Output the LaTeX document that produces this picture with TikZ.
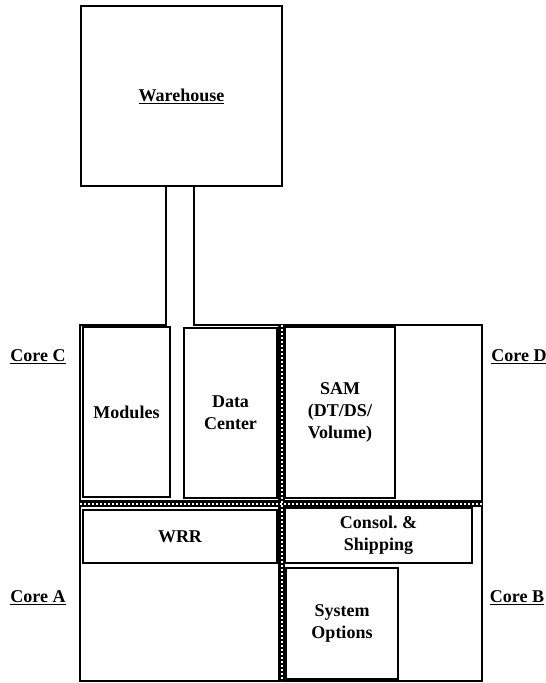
\documentclass[tikz,border=0pt]{standalone}
\usepackage{fontspec}
\setmainfont{Liberation Serif}
\usepackage{tikz}
\usetikzlibrary{positioning,decorations.pathmorphing}
\tikzset{
    setor/.style={
        rectangle,
        draw,
        line width=1.8pt,
        align=center,
        inner sep=2pt,
        font=\bfseries\fontsize{18}{22}\selectfont
    },
    rotulo/.style={font=\bfseries\fontsize{18}{22}\selectfont, inner sep=1pt},
    predio/.style={line width=2pt, line join=miter},
    faixa/.style={line width=7pt, black},
    faixaMeio/.style={white, line width=2pt, dash pattern=on 1.6pt off 2.4pt}
}

\begin{document}
\begin{tikzpicture}[x=1pt, y=-1pt]
        \useasboundingbox (0,0) rectangle (546,683);

        \node[setor, minimum width=201, minimum height=180] (arm) at (181.5,96)
            {\underline{Warehouse}};

        % predio principal com o corredor
        \coordinate (corrE) at (166,186);
        \coordinate (corrD) at (194,186);
        \draw[predio] (corrE) -- (166,325) -- (80,325) -- (80,681)
            -- (482,681) -- (482,325) -- (194,325) -- (corrD);

        % faixas divisorias
        \coordinate (fv1) at (281.5,325);
        \coordinate (fv2) at (281.5,681);
        \coordinate (fh1) at (80,503.5);
        \coordinate (fh2) at (482,503.5);
        \draw[faixa] (fh1) -- (fh2);
        \draw[faixa] (fv1) -- (fv2);
        \draw[faixaMeio] (fh1) -- (fh2);
        \draw[faixaMeio] (fv1) -- (fv2);

        \node[setor, minimum width=87, minimum height=170] (mod) at (126.5,412)
            {Modules};
        \node[setor, minimum width=93, minimum height=170] (dc) at (230.5,413)
            {Data\\Center};
        \node[setor, minimum width=110, minimum height=171] (sam) at (340,412.5)
            {SAM\\(DT/DS/\\Volume)};
        \node[setor, minimum width=194, minimum height=53] (wrr) at (180,536.5)
            {WRR};
        \node[setor, minimum width=187, minimum height=55] (cons) at (378.5,535.5)
            {Consol.\ \&\\Shipping};
        \node[setor, minimum width=112, minimum height=111] (sysop) at (342,623.5)
            {System\\Options};

        \node[rotulo] (coreC) at (38,357) {\underline{Core C}};
        \node[rotulo] (coreD) at (519,357) {\underline{Core D}};
        \node[rotulo] (coreA) at (38,598) {\underline{Core A}};
        \node[rotulo] (coreB) at (517,598) {\underline{Core B}};
    \end{tikzpicture}
\end{document}
